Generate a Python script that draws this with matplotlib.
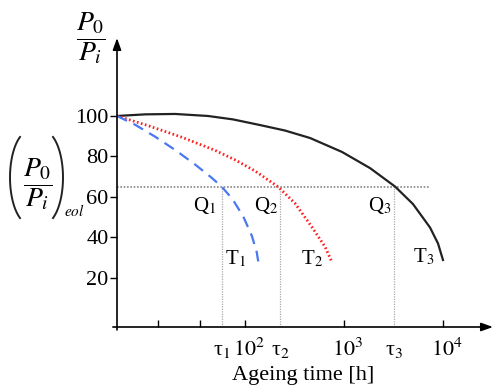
import matplotlib
matplotlib.use("Agg")
import numpy as np
import matplotlib.pyplot as plt
import matplotlib.transforms as mtransforms
from matplotlib.ticker import FixedLocator

plt.rcParams['font.family'] = ['Liberation Serif', 'DejaVu Serif']
plt.rcParams['mathtext.fontset'] = 'stix'

# ---- data (hours, P0/Pi in %) ----
t1_hours = [5.13, 7.8, 12.4, 19.8, 31.5, 46.4, 58.6, 75.4, 96.8, 118, 132, 137]
t1_vals = [100, 95.7, 89.8, 83.2, 76.0, 69.4, 65.0, 58.8, 50.2, 40.7, 32.8, 28.0]

t2_hours = [5.13, 10.6, 23.1, 50.1, 79.8, 127, 218, 322, 475, 647, 757]
t2_vals = [100, 95.2, 89.5, 83.0, 78.3, 72.8, 64.9, 56.8, 45.2, 35.3, 27.9]

t3_hours = [5.13, 9.84, 19.8, 42.6, 76.2, 143, 255, 457, 961, 1845, 3296,
            5012, 7447, 8970, 10070]
t3_vals = [100, 100.8, 101, 100, 98.3, 95.5, 92.8, 89.1, 82.2, 74.2, 65.1,
           56.4, 44.8, 36.9, 28.7]

eol_level = 65
tau_hours = [59, 228, 3220]
tau_labels = ['τ$_1$', 'τ$_2$', 'τ$_3$']
q_labels = ['Q$_1$', 'Q$_2$', 'Q$_3$']
t_labels = ['T$_1$', 'T$_2$', 'T$_3$']
xtick_vals = [10**1.12, 10**1.55, 1e2, 1e3, 1e4]
xtick_labels = ['', '', '$10^2$', '$10^3$', '$10^4$']
ytick_vals = [20, 40, 60, 80, 100]

W, H = 495, 391
fig = plt.figure(figsize=(W/100, H/100), dpi=100)
ax = fig.add_axes([117/W, 1-327/H, (490-117)/W, (327-38)/H])
ax.set_xscale('log')
ax.set_xlim(10**0.71, 10**4.478)
ax.set_ylim(-4.46, 138.6)

for s in ax.spines.values():
    s.set_visible(False)

# axes with arrows
ax.annotate('', xy=(1.008, 0), xytext=(-0.011, 0), xycoords='axes fraction',
            arrowprops=dict(arrowstyle='-|>,head_length=0.7,head_width=0.25',
                            color='black', lw=1.2, shrinkA=0, shrinkB=0))
ax.annotate('', xy=(0, 1.0), xytext=(0, -0.01), xycoords='axes fraction',
            arrowprops=dict(arrowstyle='-|>,head_length=0.7,head_width=0.25',
                            color='black', lw=1.2, shrinkA=0, shrinkB=0))

# eol reference lines
ax.plot([10**0.71, 7400], [eol_level, eol_level], color='#888888', lw=1.2,
        ls=(0, (1, 1)))
for t in tau_hours:
    ax.plot([t, t], [-4.46, eol_level], color='#aaaaaa', lw=0.9, ls=(0, (1, 1)))

# curves
ax.plot(t3_hours, t3_vals, color='#222222', lw=1.6)
ax.plot(t2_hours, t2_vals, color='#ff2020', lw=2.0, ls=(0, (0.6, 0.9)))
ax.plot(t1_hours, t1_vals, color='#4a78f0', lw=1.6, ls=(0, (5, 3.2)))

# ticks
ax.xaxis.set_major_locator(FixedLocator(xtick_vals))
ax.set_xticklabels(xtick_labels)
ax.xaxis.set_minor_locator(FixedLocator(tau_hours))
ax.set_xticklabels(tau_labels, minor=True)
ax.tick_params(axis='x', which='major', direction='in', length=5, width=1,
               labelsize=16, pad=8)
ax.tick_params(axis='x', which='minor', length=0, labelsize=16, pad=10)
shift = mtransforms.ScaledTranslation(4/100, 0, fig.dpi_scale_trans)
for lab in ax.get_xticklabels(which='major'):
    lab.set_transform(lab.get_transform() + shift)
ax.set_yticks(ytick_vals)
ax.set_yticklabels([str(v) for v in ytick_vals])
ax.tick_params(axis='y', direction='out', length=5, width=1, labelsize=16, pad=1)

ax.set_xlabel('Ageing time [h]', fontsize=16, labelpad=4)

# Q and T labels
q_pos = [(39, 55.5), (164, 55.5), (2300, 55.5)]
t_pos = [(80, 29.2), (484, 29.2), (6400, 30)]
for (x, y), lab in zip(q_pos, q_labels):
    ax.text(x, y, lab, fontsize=15, ha='center', va='center')
for (x, y), lab in zip(t_pos, t_labels):
    ax.text(x, y, lab, fontsize=15, ha='center', va='center')

# overlay in pixel coordinates for the y-axis label decorations
ov = fig.add_axes([0, 0, 1, 1])
ov.set_xlim(0, W)
ov.set_ylim(H, 0)
ov.axis('off')
ov.patch.set_alpha(0)

ov.text(91, 38, r'$\dfrac{P_0}{P_i}$', fontsize=20, ha='center', va='center')
ov.text(37.5, 184, r'$\dfrac{P_0}{P_i}$', fontsize=20, ha='center', va='center')
ov.text(74, 211, r'$eol$', fontsize=11, ha='center', va='center')

# big parentheses around the eol fraction
th = np.linspace(-np.pi/3, np.pi/3, 40)
a, b, cy = 20, 46.8, 177.5
ov.plot(30 - a*np.cos(th), cy + b*np.sin(th), color='#222222', lw=1.4)
ov.plot(43 + a*np.cos(th), cy + b*np.sin(th), color='#222222', lw=1.4)

fig.savefig('out.png', dpi=100)
